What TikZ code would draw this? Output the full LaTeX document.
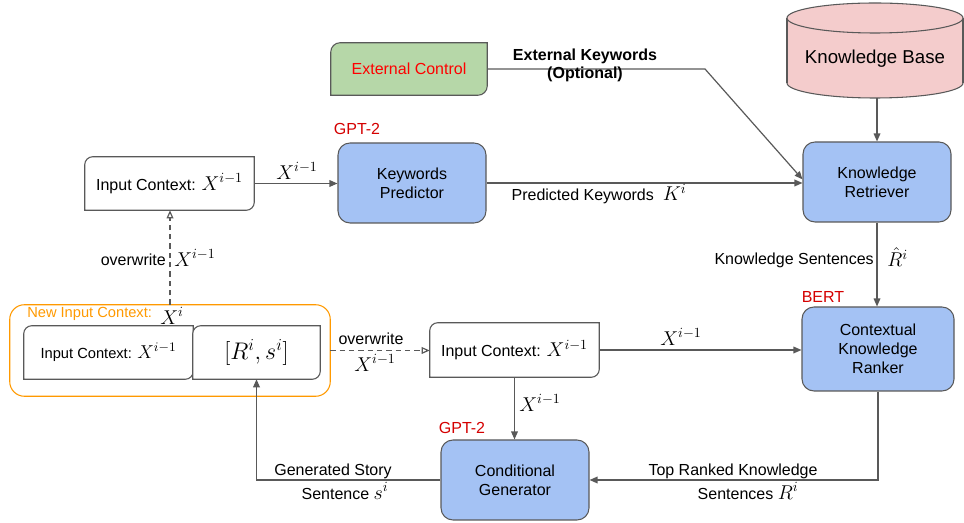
\RequirePackage{fix-cm}
\documentclass[tikz,border=0pt]{standalone}
\usepackage{fontspec}
\setmainfont{Liberation Sans}
\usetikzlibrary{arrows.meta,calc,backgrounds}
\definecolor{lgray}{HTML}{595959}
\definecolor{bluef}{HTML}{A4C2F4}
\definecolor{greenf}{HTML}{B6D7A8}
\definecolor{pinkf}{HTML}{F4CCCC}
\definecolor{redd}{HTML}{D40000}
\definecolor{orng}{HTML}{FF9900}
\newcommand\mth[1]{{\fontsize{15}{18}\selectfont$#1$}}
\newcommand\mths[1]{{\fontsize{14}{17}\selectfont$#1$}}
\newcommand\tlbr[3]{%
  \path[draw=lgray, line width=0.8pt, fill=#2]
  ($(#1.north west)+(0pt,-#3)$) .. controls ($(#1.north west)+(0pt,-0.45*#3)$) and ($(#1.north west)+(0.45*#3,0pt)$) .. ($(#1.north west)+(#3,0pt)$)
  -- (#1.north east) -- ($(#1.south east)+(0pt,#3)$)
  .. controls ($(#1.south east)+(0pt,0.45*#3)$) and ($(#1.south east)+(-0.45*#3,0pt)$) .. ($(#1.south east)+(-#3,0pt)$)
  -- (#1.south west) -- cycle;}
\tikzset{
  line/.style={draw=lgray, line width=0.9pt},
  arr/.style={line, -{Triangle[length=6pt,width=5pt]}},
  darr/.style={line, dash pattern=on 4pt off 3pt, -{Triangle[open,length=6pt,width=5pt]}},
  bluebox/.style={draw=lgray, line width=0.8pt, fill=bluef, rounded corners=9pt, align=center,
    font=\fontsize{12}{14.25}\selectfont, inner sep=0pt},
  plainbox/.style={inner sep=0pt, font=\fontsize{12}{14}\selectfont},
  lbl/.style={inner sep=0pt, font=\fontsize{12}{13.5}\selectfont},
  redlbl/.style={lbl, text=redd},
}
\begin{document}
\begin{tikzpicture}[x=0.75pt, y=-0.75pt]
\useasboundingbox (0,0) rectangle (964,523);

% main boxes
\node[bluebox, minimum width=111pt, minimum height=60pt] (kr) at (877,182) {Knowledge\\Retriever};
\node[bluebox, minimum width=111pt, minimum height=60pt] (kp) at (412,183) {Keywords\\Predictor};
\node[bluebox, minimum width=114pt, minimum height=63pt] (ckr) at (878,349) {Contextual\\Knowledge\\Ranker};
\node[bluebox, minimum width=111pt, minimum height=60pt] (cg) at (515,480) {Conditional\\Generator};
\node[plainbox, minimum width=117pt, minimum height=39pt, text=red] (ec) at (409,69) {External Control};
\node[plainbox, minimum width=126.75pt, minimum height=39.75pt] (ictop) at (169.5,183.5) {Input Context: \mth{X^{i-1}}};
\node[plainbox, minimum width=240pt, minimum height=68.25pt] (nic) at (170,350.5) {};
\node[plainbox, font=\fontsize{11}{13}\selectfont, minimum width=126.75pt, minimum height=39.75pt] (icin) at (108.5,352.5) {Input Context: \mths{X^{i-1}}};
\node[plainbox, minimum width=95.25pt, minimum height=39.75pt] (rs) at (256.5,352.5) {\fontsize{18}{20}\selectfont$[R^i, s^i]$};
\node[plainbox, minimum width=126.75pt, minimum height=40.5pt] (icmid) at (514.5,350) {Input Context: \mth{X^{i-1}}};
\node[inner sep=0pt, font=\fontsize{14}{16}\selectfont] (kb) at (875,59) {Knowledge Base};
\coordinate (kbb) at (877,98);
\coordinate (ekc) at (705,69);

\begin{scope}[on background layer]
  % knowledge base cylinder
  \filldraw[fill=pinkf, draw=lgray, line width=0.8pt] (875,83) ellipse (88 and 15);
  \fill[pinkf] (787.6,18) rectangle (962.4,83);
  \draw[lgray, line width=0.8pt] (787,18) -- (787,83) (963,18) -- (963,83);
  \filldraw[fill=pinkf, draw=lgray, line width=0.8pt] (875,18) ellipse (88 and 15);
  % custom boxes
  \tlbr{ec}{greenf}{7pt}
  \tlbr{ictop}{white}{6pt}
  \draw[orng, line width=0.8pt, rounded corners=11pt] (nic.south west) rectangle (nic.north east);
  \tlbr{icin}{white}{6pt}
  \tlbr{rs}{white}{6pt}
  \tlbr{icmid}{white}{6pt}
\end{scope}

% connectors
\draw[arr] (kbb) -- (kr.north);
\draw[arr] (ictop.east) -- (ictop.east -| kp.west);
\draw[arr] (kp.east) -- (kp.east -| kr.west);
\draw[arr] (ec.east) -- (ekc) -- ([yshift=2pt]kr.west);
\draw[darr] (nic.north) -- (nic.north |- ictop.south);
\draw[darr] (nic.east) -- (nic.east -| icmid.west);
\draw[arr] (icmid.east) -- (icmid.east -| ckr.west);
\draw[arr] (icmid.south) -- (icmid.south |- cg.north);
\draw[arr] (kr.south) -- (kr.south |- ckr.north);
\draw[arr] (ckr.south) |- (cg.east);
\draw[arr] (cg.west) -| (rs.south);

% labels
\node[lbl, align=center, font=\bfseries\fontsize{12}{13.5}\selectfont] (ekl) at (585,65) {External Keywords\\(Optional)};
\node[lbl] (l1) at (297,171) {\mth{X^{i-1}}};
\node[lbl] (l2) at (599,194) {Predicted Keywords \ \mth{K^i}};
\node[lbl, anchor=east] (l3) at (166,260) {overwrite};
\node[lbl, anchor=west] (l4) at (174,258) {\mth{X^{i-1}}};
\node[lbl, anchor=east] (l5) at (874,260) {Knowledge Sentences};
\node[lbl, anchor=west] (l6) at (887,257) {\mth{\hat{R}^i}};
\node[redlbl] (g1) at (357,129) {GPT-2};
\node[redlbl] (g2) at (823,297) {BERT};
\node[redlbl] (g3) at (462,428) {GPT-2};
\node[lbl, anchor=west, text=orng, font=\fontsize{11}{13}\selectfont] (l7) at (27,314) {New Input Context:};
\node[lbl, anchor=west] (l8) at (160,316) {\mth{X^i}};
\node[lbl] (l9) at (371,339) {overwrite};
\node[lbl] (l10) at (375,363) {\mth{X^{i-1}}};
\node[lbl] (l11) at (681,337) {\mth{X^{i-1}}};
\node[lbl] (l12) at (540,403) {\mth{X^{i-1}}};
\node[lbl] (l13) at (733,471) {Top Ranked Knowledge};
\node[lbl] (l14) at (748,491) {Sentences \mth{R^i}};
\node[lbl] (l15) at (333,471) {Generated Story};
\node[lbl] (l16) at (345,491) {Sentence \mth{s^i}};
\end{tikzpicture}
\end{document}
